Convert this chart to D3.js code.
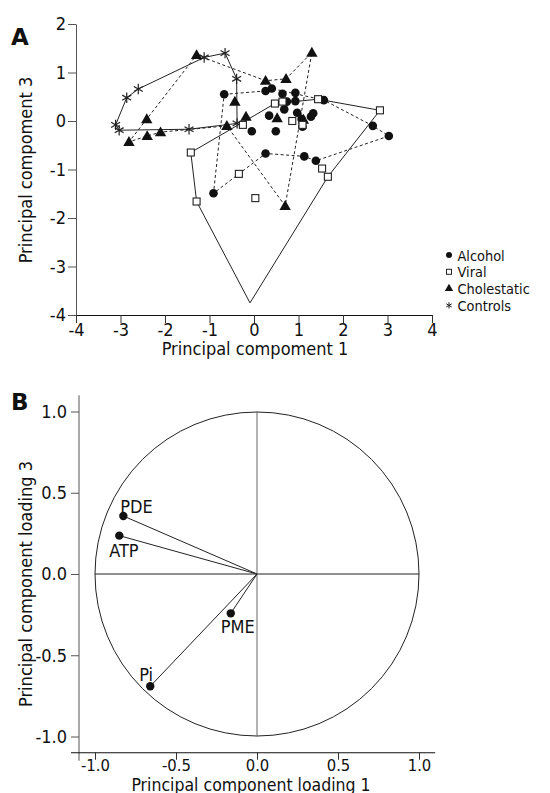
<!DOCTYPE html>
<html>
<head>
<meta charset="utf-8">
<script src="https://cdn.jsdelivr.net/npm/d3@7"></script>
<style>
body { margin: 0; background: #fff; }
text { font-family: "DejaVu Sans Condensed", "DejaVu Sans", sans-serif; font-stretch: condensed; fill: #111; }
</style>
</head>
<body>
<div id="chart"></div>
<script>
// panel A: scores on PC1 / PC3
var alcohol = [[-0.67,0.55],[0.26,0.62],[0.40,0.67],[0.64,0.56],[0.93,0.58],[0.74,0.40],[0.93,0.41],[1.57,0.43],
  [0.68,0.24],[0.97,0.17],[0.34,0.11],[1.33,0.16],[1.28,0.09],[1.07,0.04],[1.09,-0.12],[-0.05,-0.21],[0.49,-0.21],
  [2.67,-0.10],[3.03,-0.31],[0.26,-0.67],[1.13,-0.73],[1.39,-0.82],[-0.91,-1.49]];
var alcoholHull = [0,1,2,7,17,18,21,20,19,22];

var viral = [[-1.42,-0.65],[-1.29,-1.66],[-0.34,-1.09],[0.03,-1.59],[-0.25,-0.08],[0.47,0.36],[0.64,0.40],
  [0.86,0.00],[1.09,-0.08],[1.44,0.45],[2.83,0.22],[1.53,-0.98],[1.66,-1.15]];
var viralApex = [-0.09,-3.75];
var viralHull = [0,5,9,10,12,"apex",1];

var cholestatic = [[-1.29,1.36],[-2.41,0.04],[-2.81,-0.43],[-2.40,-0.31],[-2.10,-0.23],[-0.61,-0.10],[-0.43,0.40],
  [-0.18,0.09],[0.26,0.83],[0.72,0.87],[1.30,1.41],[0.52,0.06],[1.11,0.03],[0.70,-1.75]];
var cholestaticHull = [0,8,9,10,13,5,4,3,2,1];

var controls = [[-3.11,-0.08],[-3.03,-0.19],[-2.86,0.48],[-2.60,0.66],[-1.12,1.31],[-0.65,1.40],[-0.39,0.87],
  [-0.38,-0.05],[-1.46,-0.17]];
var controlsHull = [0,2,3,4,5,6,7,8,1];

var groupNames = ["Alcohol","Viral","Cholestatic","Controls"];
var ticksA1 = [-4,-3,-2,-1,0,1,2,3,4];
var ticksA3 = [-4,-3,-2,-1,0,1,2];

// panel B: loadings
var loadingNames = ["PDE","ATP","PME","Pi"];
var loading1 = [-0.825,-0.85,-0.162,-0.659];
var loading3 = [0.357,0.236,-0.242,-0.691];
var ticksB = [-1.0,-0.5,0.0,0.5,1.0];

(function () {
var width = 550, height = 793;
var svg = d3.select("#chart")
.append("svg")
.attr("width", width)
.attr("height", height)
.style("background", "#fff");

var fmtB = function(d){ return d3.format(".1f")(d).replace("\u2212","-"); };
var fmtA = function(d){ return String(d); };

// ---------- panel A ----------
var xA = d3.scaleLinear().domain([-4,4]).range([76,432]);
var yA = d3.scaleLinear().domain([-4,2]).range([315,24]);
var gA = svg.append("g");

gA.append("g")
.attr("transform", "translate(76,0)")
.call(d3.axisLeft(yA).tickValues(ticksA3).tickFormat(fmtA).tickSize(8).tickSizeOuter(0).tickPadding(2))
.call(function(g){
  g.select(".domain").attr("stroke","#555");
  g.selectAll(".tick line").attr("stroke","#555");
  g.selectAll("text").attr("font-size",18).attr("fill","#111");
});

gA.append("g")
.attr("transform", "translate(0,315)")
.call(d3.axisBottom(xA).tickValues(ticksA1).tickFormat(fmtA).tickSize(8).tickSizeOuter(0).tickPadding(0))
.call(function(g){
  g.select(".domain").attr("stroke","#111");
  g.selectAll(".tick line").attr("stroke","#333");
  g.selectAll("text").attr("font-size",18).attr("fill","#111");
});

gA.append("text")
.attr("x", 255).attr("y", 355)
.attr("text-anchor","middle")
.attr("font-size", 18)
.text("Principal compoment 1");

gA.append("text")
.attr("transform","translate(32,170) rotate(-90)")
.attr("text-anchor","middle")
.attr("font-size", 18)
.text("Principal compoment 3");

gA.append("text")
.attr("x", 11).attr("y", 45)
.style("font-family","'DejaVu Sans', sans-serif")
.style("font-stretch","normal")
.attr("font-size", 23).attr("font-weight","bold")
.text("A");

var line = d3.line().x(function(d){ return xA(d[0]); }).y(function(d){ return yA(d[1]); });

function hullPts(pts, order, extra){
  var out = order.map(function(i){ return i === "apex" ? extra : pts[i]; });
  out.push(out[0]);
  return out;
}

var hulls = [
  {pts: hullPts(alcohol, alcoholHull), dash: "3,2.5"},
  {pts: hullPts(cholestatic, cholestaticHull), dash: "3,2.5"},
  {pts: hullPts(controls, controlsHull), dash: null},
  {pts: hullPts(viral, viralHull, viralApex), dash: null}
];

gA.selectAll(".hull")
.data(hulls)
.enter().append("path")
.attr("class","hull")
.attr("d", function(d){ return line(d.pts); })
.attr("fill","none")
.attr("stroke","#222")
.attr("stroke-width",1)
.attr("stroke-dasharray", function(d){ return d.dash; });

var tri = d3.symbol().type(d3.symbolTriangle).size(56);
var ast = d3.symbol().type(d3.symbolAsterisk).size(75);

gA.selectAll(".controls")
.data(controls)
.enter().append("path")
.attr("class","controls")
.attr("transform", function(d){ return "translate(" + xA(d[0]) + "," + yA(d[1]) + ")"; })
.attr("d", ast)
.attr("fill","none")
.attr("stroke","#222")
.attr("stroke-width",1.2);

gA.selectAll(".chol")
.data(cholestatic)
.enter().append("path")
.attr("class","chol")
.attr("transform", function(d){ return "translate(" + xA(d[0]) + "," + (yA(d[1]) + 0.8) + ")"; })
.attr("d", tri)
.attr("fill","#111");

gA.selectAll(".alc")
.data(alcohol)
.enter().append("circle")
.attr("class","alc")
.attr("cx", function(d){ return xA(d[0]); })
.attr("cy", function(d){ return yA(d[1]); })
.attr("r", 4.3)
.attr("fill","#111");

gA.selectAll(".vir")
.data(viral)
.enter().append("rect")
.attr("class","vir")
.attr("x", function(d){ return xA(d[0]) - 3.5; })
.attr("y", function(d){ return yA(d[1]) - 3.5; })
.attr("width", 7).attr("height", 7)
.attr("fill","#fff")
.attr("stroke","#222")
.attr("stroke-width",1.1);

// legend
var legend = gA.selectAll(".leg")
.data(groupNames)
.enter().append("g")
.attr("class","leg")
.attr("transform", function(d,i){ return "translate(449," + (255 + i*16.8) + ")"; });

legend.each(function(d,i){
  var g = d3.select(this);
  if (i === 0) g.append("circle").attr("r",3).attr("fill","#111");
  if (i === 1) g.append("rect").attr("x",-2.5).attr("y",-2.5).attr("width",5).attr("height",5).attr("fill","#fff").attr("stroke","#222");
  if (i === 2) g.append("path").attr("d", d3.symbol().type(d3.symbolTriangle).size(30)()).attr("fill","#111");
  if (i === 3) g.append("path").attr("d", d3.symbol().type(d3.symbolAsterisk).size(28)()).attr("fill","none").attr("stroke","#222");
});

legend.append("text")
.attr("x", 8.5).attr("y", 5.5)
.attr("font-size", 14.4)
.text(function(d){ return d; });

// ---------- panel B ----------
var xB = d3.scaleLinear().domain([-1.1,1.1]).range([78.8,435.2]);
var yB = d3.scaleLinear().domain([-1.1,1.1]).range([752.75,395.25]);
var gB = svg.append("g");

gB.append("g")
.attr("transform", "translate(79,0)")
.call(d3.axisLeft(yB).tickValues(ticksB).tickFormat(fmtB).tickSize(8).tickSizeOuter(0).tickPadding(4))
.call(function(g){
  g.select(".domain").remove();
  g.selectAll(".tick line").attr("stroke","#555");
  g.selectAll("text").attr("font-size",18).attr("fill","#111");
});

gB.append("g")
.attr("transform", "translate(0,752.75)")
.call(d3.axisBottom(xB).tickValues(ticksB).tickFormat(fmtB).tickSize(7).tickSizeOuter(0).tickPadding(0))
.call(function(g){
  g.select(".domain").remove();
  g.selectAll(".tick line").attr("stroke","#333");
  g.selectAll("text").attr("font-size",16.5).attr("fill","#111");
});

gB.append("line")
.attr("x1",79).attr("x2",79).attr("y1",yB(1.1)).attr("y2",yB(-1.1)+8)
.attr("stroke","#555");
gB.append("line")
.attr("x1",71).attr("x2",xB(1.1)).attr("y1",yB(-1.1)).attr("y2",yB(-1.1))
.attr("stroke","#111");

var r = xB(1) - xB(0);
gB.append("circle")
.attr("cx", xB(0)).attr("cy", yB(0))
.attr("r", r)
.attr("fill","none")
.attr("stroke","#222")
.attr("stroke-width",1);

gB.append("line")
.attr("x1", xB(-1)).attr("x2", xB(1)).attr("y1", yB(0)).attr("y2", yB(0))
.attr("stroke","#222");
gB.append("line")
.attr("x1", xB(0)).attr("x2", xB(0)).attr("y1", yB(1)).attr("y2", yB(-1))
.attr("stroke","#666");

var loadings = loadingNames.map(function(n,i){ return {name:n, x:loading1[i], y:loading3[i]}; });
var labelPos = {PDE:[-3,-3], ATP:[-10,21], PME:[-10,19.5], Pi:[-11,-5.5]};

gB.selectAll(".vec")
.data(loadings)
.enter().append("line")
.attr("class","vec")
.attr("x1", xB(0)).attr("y1", yB(0))
.attr("x2", function(d){ return xB(d.x); })
.attr("y2", function(d){ return yB(d.y); })
.attr("stroke","#222")
.attr("stroke-width",1);

gB.selectAll(".ld")
.data(loadings)
.enter().append("circle")
.attr("class","ld")
.attr("cx", function(d){ return xB(d.x); })
.attr("cy", function(d){ return yB(d.y); })
.attr("r", 4.2)
.attr("fill","#111");

gB.selectAll(".ldl")
.data(loadings)
.enter().append("text")
.attr("class","ldl")
.attr("x", function(d){ return xB(d.x) + labelPos[d.name][0]; })
.attr("y", function(d){ return yB(d.y) + labelPos[d.name][1]; })
.attr("font-size", 18)
.text(function(d){ return d.name; });

gB.append("text")
.attr("x", 251).attr("y", 790.5)
.attr("text-anchor","middle")
.attr("font-size", 17.5)
.text("Principal component loading 1");

gB.append("text")
.attr("transform","translate(32,584) rotate(-90)")
.attr("text-anchor","middle")
.attr("font-size", 18)
.text("Principal component loading 3");

gB.append("text")
.attr("x", 11).attr("y", 410)
.style("font-family","'DejaVu Sans', sans-serif")
.style("font-stretch","normal")
.attr("font-size", 23).attr("font-weight","bold")
.text("B");

})();
</script>
</body>
</html>
